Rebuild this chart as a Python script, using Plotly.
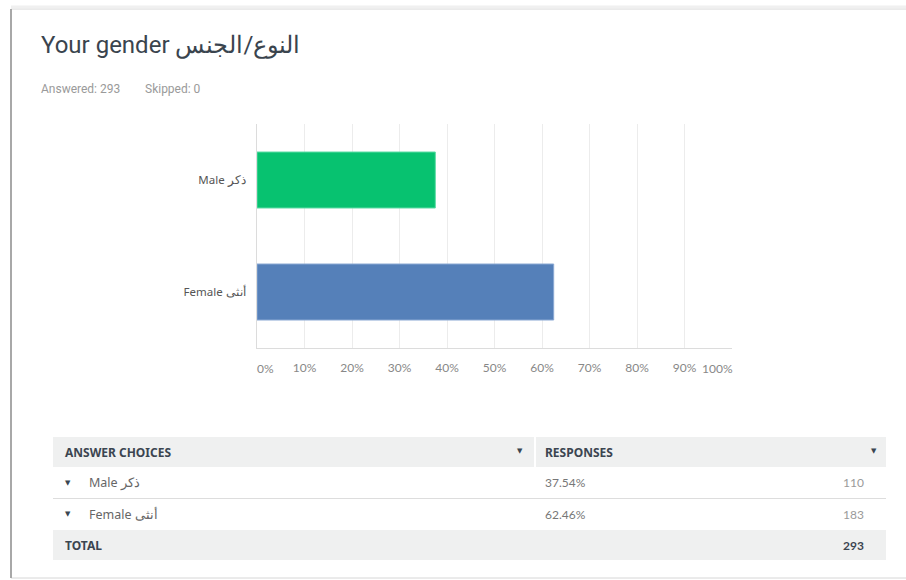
import plotly.graph_objects as go

# ---- data ----
title_text = "Your gender النوع/الجنس"
answered = 293
skipped = 0
categories = ["Male ذكر", "Female أنثى"]
percents = [37.54, 62.46]
counts = [110, 183]
total = 293
tick_values = [0, 10, 20, 30, 40, 50, 60, 70, 80, 90, 100]
tick_labels = ["0%", "10%", "20%", "30%", "40%", "50%", "60%", "70%", "80%", "90%", "100%"]
bar_colors = ["#07C270", "#5580B9"]
bar_edges = ["#5fdca6", "#8aa8d3"]

W, H = 906, 580
L, R, T, B = 257, 732, 124, 348  # plot area in pixels


def xp(px):
    return (px - L) / (R - L)


def yp(py):
    return (B - py) / (B - T)


fig = go.Figure()
fig.add_trace(go.Bar(
    x=percents, y=categories, orientation="h", width=0.5,
    marker=dict(color=bar_colors, line=dict(color=bar_edges, width=1)),
    hoverinfo="skip",
))

shown = ["" if v in (0, 100) else t for v, t in zip(tick_values, tick_labels)]

TICKFONT = dict(family="Lato, Noto Sans, sans-serif", size=12, color="#888888")
TABLEFONT = "Noto Sans, Open Sans, sans-serif"

fig.update_layout(
    width=W, height=H,
    margin=dict(l=L, r=W - R, t=T, b=H - B, pad=0),
    paper_bgcolor="white", plot_bgcolor="white",
    showlegend=False, bargap=0.5,
    xaxis=dict(range=[0, 100], tickvals=tick_values, ticktext=shown,
               showgrid=True, gridcolor="#ececec", gridwidth=1,
               showline=True, linecolor="#dcdcdc", linewidth=1,
               ticks="outside", ticklen=9, tickcolor="rgba(0,0,0,0)",
               tickfont=TICKFONT, zeroline=False, fixedrange=True),
    yaxis=dict(autorange="reversed", showgrid=False,
               showline=True, linecolor="#dcdcdc", linewidth=1,
               ticks="outside", ticklen=8, tickcolor="rgba(0,0,0,0)",
               tickfont=dict(family=TABLEFONT, size=11.5, color="#555555"),
               fixedrange=True),
)

ann = []
# edge tick labels nudged inward
ann.append(dict(x=tick_values[0], y=yp(368), xref="x", yref="paper", text=tick_labels[0],
                showarrow=False, xshift=8, font=TICKFONT, xanchor="center", yanchor="middle"))
ann.append(dict(x=tick_values[-1], y=yp(368), xref="x", yref="paper", text=tick_labels[-1],
                showarrow=False, xshift=-15, font=TICKFONT, xanchor="center", yanchor="middle"))

# title + meta
ann.append(dict(x=xp(39), y=yp(45), xref="paper", yref="paper", text=title_text,
                showarrow=False, xanchor="left", yanchor="middle",
                font=dict(family="Roboto, Noto Sans, sans-serif", size=24, color="#3a444e")))
ann.append(dict(x=xp(39), y=yp(89), xref="paper", yref="paper", text=f"Answered: {answered}",
                showarrow=False, xanchor="left", yanchor="middle",
                font=dict(family="Roboto, sans-serif", size=12, color="#9a9a9a")))
ann.append(dict(x=xp(143), y=yp(89), xref="paper", yref="paper", text=f"Skipped: {skipped}",
                showarrow=False, xanchor="left", yanchor="middle",
                font=dict(family="Roboto, sans-serif", size=12, color="#9a9a9a")))

shapes = []
# card
shapes.append(dict(type="rect", xref="paper", yref="paper", x0=xp(11), x1=xp(910), y0=yp(9), y1=yp(578),
                   line=dict(color="#d6d6d6", width=1), fillcolor="rgba(0,0,0,0)", layer="below"))
shapes.append(dict(type="line", xref="paper", yref="paper", x0=xp(11), x1=xp(11), y0=yp(9), y1=yp(578),
                   line=dict(color="#a8a8a8", width=2)))
shapes.append(dict(type="line", xref="paper", yref="paper", x0=xp(11), x1=xp(910), y0=yp(7), y1=yp(7),
                   line=dict(color="#f0f0f0", width=3), layer="below"))

# table
HDR_Y0, HDR_Y1 = 437, 467
ROW_H = 31.5
TBL_L, TBL_R, COL2 = 53, 886, 535
GRAY = "#eff0f0"
shapes.append(dict(type="rect", xref="paper", yref="paper", x0=xp(TBL_L), x1=xp(COL2 - 1),
                   y0=yp(HDR_Y0), y1=yp(HDR_Y1), line=dict(width=0), fillcolor=GRAY, layer="below"))
shapes.append(dict(type="rect", xref="paper", yref="paper", x0=xp(COL2 + 1), x1=xp(TBL_R),
                   y0=yp(HDR_Y0), y1=yp(HDR_Y1), line=dict(width=0), fillcolor=GRAY, layer="below"))
total_y0 = HDR_Y1 + ROW_H * len(categories)
shapes.append(dict(type="rect", xref="paper", yref="paper", x0=xp(TBL_L), x1=xp(TBL_R),
                   y0=yp(total_y0), y1=yp(total_y0 + 30), line=dict(width=0), fillcolor=GRAY, layer="below"))
for i in range(len(categories) - 1):
    ly = HDR_Y1 + ROW_H * (i + 1)
    shapes.append(dict(type="line", xref="paper", yref="paper", x0=xp(TBL_L), x1=xp(TBL_R),
                       y0=yp(ly), y1=yp(ly), line=dict(color="#dddddd", width=1)))

HDRFONT = dict(family=TABLEFONT, size=12, color="#3b4550")
hy = (HDR_Y0 + HDR_Y1) / 2
ann.append(dict(x=xp(63), y=yp(hy), xref="paper", yref="paper", text="<b>ANSWER CHOICES</b>",
                showarrow=False, xanchor="left", yanchor="middle", font=HDRFONT))
ann.append(dict(x=xp(543), y=yp(hy), xref="paper", yref="paper", text="<b>RESPONSES</b>",
                showarrow=False, xanchor="left", yanchor="middle", font=HDRFONT))
for tx in (520, 874):
    ann.append(dict(x=xp(tx), y=yp(hy - 1), xref="paper", yref="paper", text="▼",
                    showarrow=False, xanchor="center", yanchor="middle",
                    font=dict(family="DejaVu Sans", size=7, color="#3b4550")))

for i, (c, p, n) in enumerate(zip(categories, percents, counts)):
    ry = HDR_Y1 + ROW_H * i + ROW_H / 2
    ann.append(dict(x=xp(68), y=yp(ry), xref="paper", yref="paper", text="▼",
                    showarrow=False, xanchor="center", yanchor="middle",
                    font=dict(family="DejaVu Sans", size=7, color="#3b4550")))
    ann.append(dict(x=xp(87), y=yp(ry), xref="paper", yref="paper", text=c,
                    showarrow=False, xanchor="left", yanchor="middle",
                    font=dict(family=TABLEFONT, size=12.5, color="#666666")))
    ann.append(dict(x=xp(543), y=yp(ry), xref="paper", yref="paper", text=f"{p:.2f}%",
                    showarrow=False, xanchor="left", yanchor="middle",
                    font=dict(family="Lato, sans-serif", size=12, color="#777777")))
    ann.append(dict(x=xp(866), y=yp(ry), xref="paper", yref="paper", text=str(n),
                    showarrow=False, xanchor="right", yanchor="middle",
                    font=dict(family="Lato, sans-serif", size=12, color="#9a9a9a")))

ty = total_y0 + 15
ann.append(dict(x=xp(63), y=yp(ty), xref="paper", yref="paper", text="<b>TOTAL</b>",
                showarrow=False, xanchor="left", yanchor="middle", font=HDRFONT))
ann.append(dict(x=xp(866), y=yp(ty), xref="paper", yref="paper", text=f"<b>{total}</b>",
                showarrow=False, xanchor="right", yanchor="middle",
                font=dict(family="Lato, sans-serif", size=12, color="#3b4550")))

fig.update_layout(annotations=ann, shapes=shapes)
fig.write_html("out.html", config={"displayModeBar": False},
               post_script="document.body.style.margin='0';document.body.style.overflow='hidden';")
